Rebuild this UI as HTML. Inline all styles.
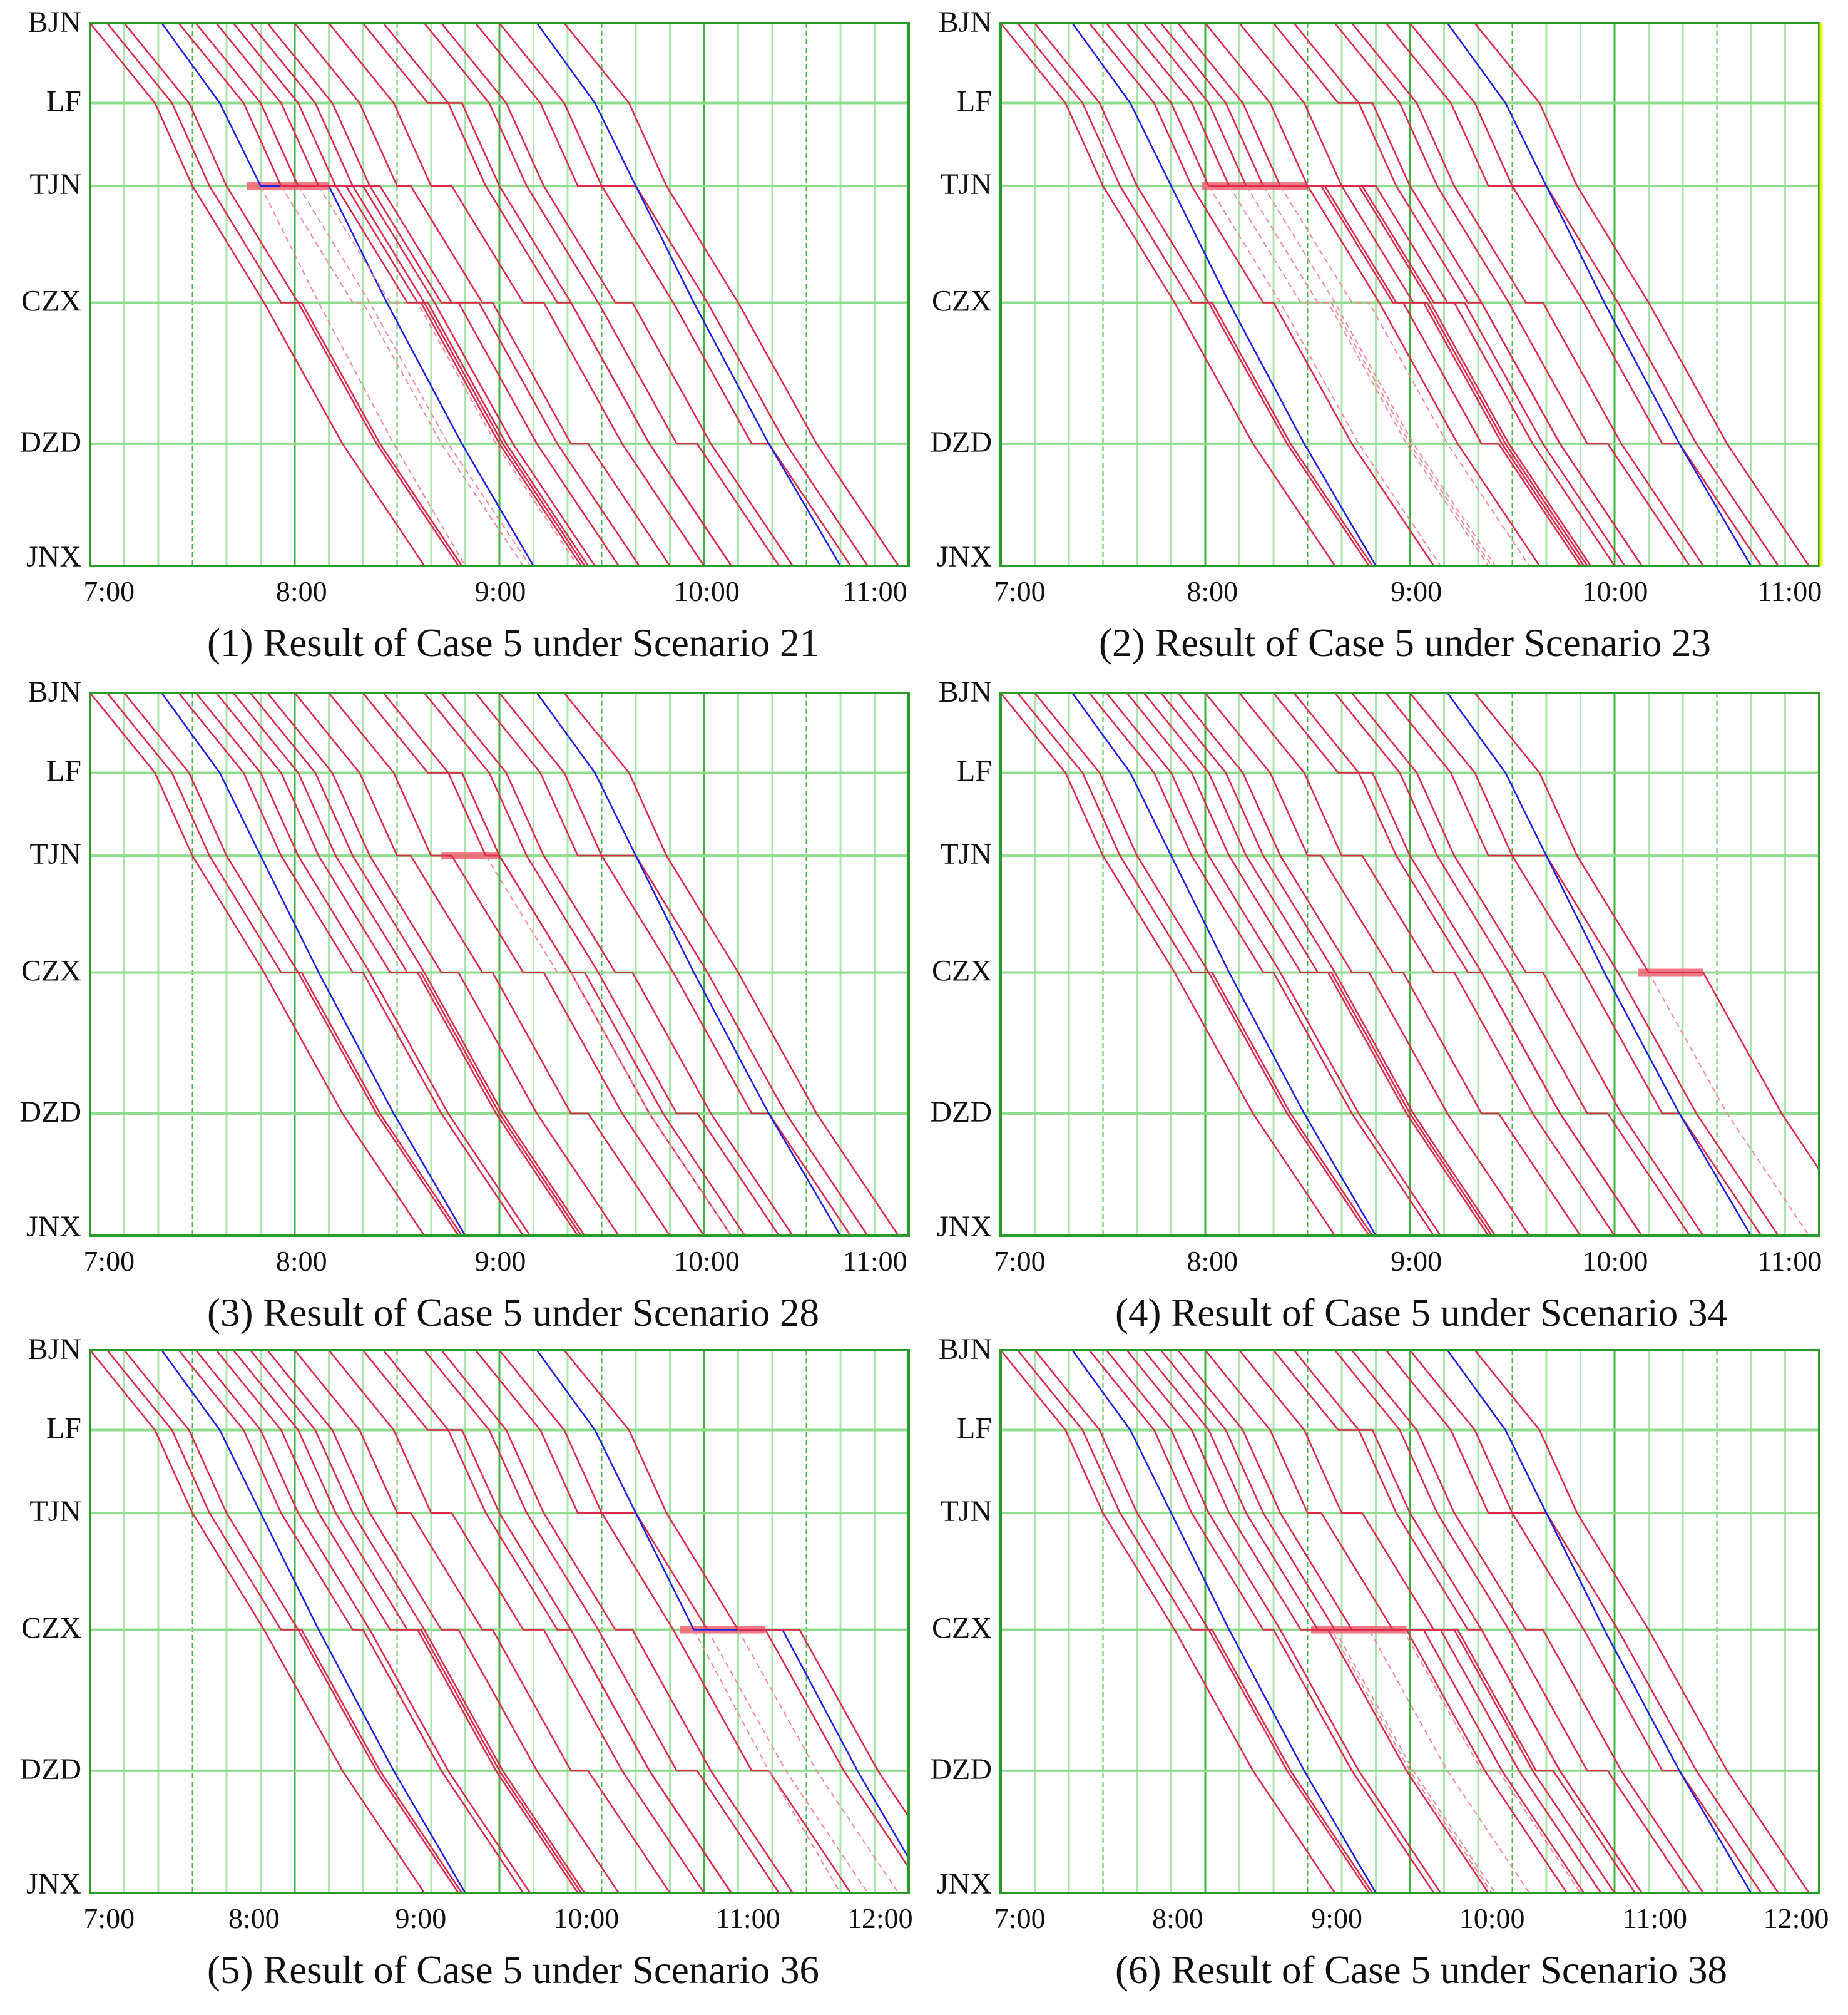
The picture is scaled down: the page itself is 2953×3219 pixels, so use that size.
<!DOCTYPE html>
<html><head><meta charset="utf-8"><style>
html,body{margin:0;padding:0;background:#fff;}
svg{display:block;}
text{font-family:"Liberation Serif",serif;fill:#111;}
</style></head><body>
<svg id="fig" width="2953" height="3219" viewBox="0 0 2953 3219" xmlns="http://www.w3.org/2000/svg"></svg>
<script>
const stations = ["BJN","LF","TJN","CZX","DZD","JNX"];
const stationPos = [0, 0.147, 0.30, 0.515, 0.775, 1];
const trainDeps = [0,5,10,21,26,31,37,42,47,52,60,70,80,86,98,103,113,120,131,139];
const trainTypes = ["r","r","r","b","r","r","r","r","r","r","r","r","r","r","r","r","r","r","b","r"];
const dwellLF  = [0,0,0,0,0,0,0,0,0,0,0,0,10,0,0,0,0,0,0,0];
const dwellTJN = [0,0,0,0,0,0,0,0,0,0,4,6,0,0,0,0,7,10,0,0];
const dwellCZX = [0,6,0,0,3,0,8,4,0,5,3,6,0,4,0,5,0,0,0,0];
const dwellDZD = [0,0,0,0,0,0,0,0,0,0,5,0,0,0,6,0,5,0,0,0];
const runRed  = [19,11,21,23,24];
const runBlue = [17,12,17,22,21];
const panelTitles = ["(1) Result of Case 5 under Scenario 21","(2) Result of Case 5 under Scenario 23","(3) Result of Case 5 under Scenario 28","(4) Result of Case 5 under Scenario 34","(5) Result of Case 5 under Scenario 36","(6) Result of Case 5 under Scenario 38"];
const disStation = [2,2,2,3,3,3];
const disStart = [46,59,103,187,173,91];
const disEnd = [70,90,120,206,198,119];
const tickLabels = [["7:00","8:00","9:00","10:00","11:00"],["7:00","8:00","9:00","10:00","11:00"],["7:00","8:00","9:00","10:00","11:00"],["7:00","8:00","9:00","10:00","11:00"],["7:00","8:00","9:00","10:00","11:00","12:00"],["7:00","8:00","9:00","10:00","11:00","12:00"]];
const tickDisp = [[85,235,390,551,682],[795,945,1104,1259,1395],[85,235,390,551,682],[795,945,1104,1259,1395],[85,198,328,457,583,686],[795,918,1042,1163,1290,1400]];
const panelLeft = [144,1599,144,1599,144,1599];
const panelTop = [37,37,1107,1107,2157,2157];
const captionX = [820,2245,820,2271,820,2271];
const W = 1308, H = 867, SPAN = 240;
const NS = "http://www.w3.org/2000/svg";
const svg = document.getElementById("fig");
function mk(tag, attrs, parent){const e=document.createElementNS(NS,tag);for(const k in attrs)e.setAttribute(k,attrs[k]);(parent||svg).appendChild(e);return e;}
const dw = [null, dwellLF, dwellTJN, dwellCZX, dwellDZD];

function simulate(i, dis){
  const run = trainTypes[i]==="b"?runBlue:runRed;
  let t = trainDeps[i]; const pts=[[t,0]]; let delayed=false;
  for(let s=1;s<=5;s++){
    t += run[s-1]; pts.push([t,s]);
    if(s<5){
      let d = t + dw[s][i];
      if(dis && dis.st===s && t>=dis.start && t<dis.end){
        d = Math.max(d, dis.end + 5*dis.q); dis.q++; delayed=true;
      }
      if(d>t){pts.push([d,s]);}
      t=d;
    }
  }
  return {pts, delayed};
}

for(let p=0;p<6;p++){
  const L=panelLeft[p], T=panelTop[p];
  const g = mk("g",{});
  
  
  const X = t => L + t/SPAN*W;
  const Y = f => T + f*H;
  const cid="clip"+p;
  const cp=mk("clipPath",{id:cid},g); mk("rect",{x:L,y:T,width:W,height:H},cp);
  for(let m=10;m<SPAN;m+=10){
    let a;
    if(m%60===0) a={stroke:"#3cb43c","stroke-width":3};
    else if(m%30===0) a={stroke:"#46b846","stroke-width":2,"stroke-dasharray":"8,5"};
    else a={stroke:"#a9e6a9","stroke-width":3};
    const ln=mk("line",Object.assign({x1:X(m),x2:X(m),y1:T,y2:T+H},a),g);
    
    
  }
  stations.forEach((s,k)=>{
    if(k>0&&k<5){
      const ln=mk("line",{x1:L,x2:L+W,y1:Y(stationPos[k]),y2:Y(stationPos[k]),stroke:"#8fdc8f","stroke-width":4},g);
      
      
    }
    const ty = k===0?T+3:(k===5?T+H-10:Y(stationPos[k])+2);
    const tx=mk("text",{x:L-14,y:ty,"font-size":48,"text-anchor":"end","dominant-baseline":"middle"},g);
    tx.textContent=s;
    
    
  });
  const tg=mk("g",{"clip-path":"url(#"+cid+")"},g);
  const dis={st:disStation[p],start:disStart[p],end:disEnd[p],q:0};
  const hl=mk("rect",{x:X(disStart[p]),y:Y(stationPos[disStation[p]])-6,width:X(disEnd[p])-X(disStart[p]),height:12,fill:"#f0606e","fill-opacity":0.85},tg);
  
  
  for(let i=0;i<trainDeps.length;i++){
    const r=simulate(i,dis);
    const col=trainTypes[i]==="b"?"#1f1fe0":"#dc2a4e";
    if(r.delayed){
      const o=simulate(i,null).pts.filter(q=>q[1]>=disStation[p]);
      const dl=mk("polyline",{points:o.map(q=>X(q[0])+","+Y(stationPos[q[1]])).join(" "),fill:"none",stroke:"#ee8898","stroke-width":2,"stroke-dasharray":"9,6"},tg);
      
      
    }
    const pl=mk("polyline",{points:r.pts.map(q=>X(q[0])+","+Y(stationPos[q[1]])).join(" "),fill:"none",stroke:col,"stroke-width":2.6},tg);
    
    
  }
  const bd=mk("rect",{x:L,y:T,width:W,height:H,fill:"none",stroke:"#2a9a2a","stroke-width":4},g);
  
  
  if(p===1){const yl=mk("line",{x1:L+W+3,x2:L+W+3,y1:T,y2:T+H,stroke:"#f2f200","stroke-width":5},g);
    
    }
  tickLabels[p].forEach((lab,k)=>{
    const tx=mk("text",{x:tickDisp[p][k]*2.05,y:T+H+56,"font-size":46,"text-anchor":"middle"},g);
    tx.textContent=lab;
    
    
  });
  const cap=mk("text",{x:captionX[p],y:T+H+144,"font-size":63,"text-anchor":"middle"},g);
  cap.textContent=panelTitles[p];
  
  
}
</script>
</body></html>
